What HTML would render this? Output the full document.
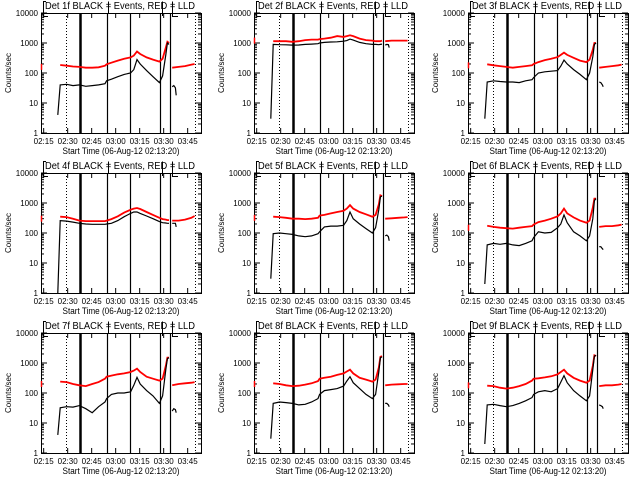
<!DOCTYPE html>
<html><head><meta charset="utf-8"><style>
html,body{margin:0;padding:0;background:#fff;}
svg{display:block;font-family:"Liberation Sans",sans-serif;}
</style></head><body>
<svg id="chart" width="640" height="480" viewBox="0 0 640 480" xmlns="http://www.w3.org/2000/svg"></svg>
<script>
const panelNames = ["1f","2f","3f","4f","5f","6f","7f","8f","9f"];
const xTickLabels = ["02:15","02:30","02:45","03:00","03:15","03:30","03:45"];
const xTickMinutes = [1.67,16.67,31.67,46.67,61.67,76.67,91.67];
const yTickLabels = ["1","10","100","1000","10000"];
const yTickValues = [1,10,100,1000,10000];
const solidLineMinutes = [24.4,41.25,55.6,74.4,80.6];
const dottedLineMinutes = [15.6,96.25];
const tA = [10.5,12,16,20,24,28,32,36,40,41,44,48,52,56,58,60,62,66,70,74,76,78,79,80];
const tB = [82,83,84,84.5];
const tRB = [82,86,90,94,96];
const blackA = [
 [4,40,42,38,40,36,38,40,44,55,62,75,90,100,130,280,200,120,75,48,80,400,1000,900],
 [3,900,880,870,850,860,900,920,950,1000,1050,1080,1100,1150,1200,1350,1250,1050,950,900,900,880,900,920],
 [3,50,55,52,50,50,48,55,60,70,100,110,115,120,170,270,200,130,90,60,100,350,900,1000],
 [1,260,250,230,210,200,195,195,195,200,210,260,350,450,500,500,450,370,300,240,220,215,210,210],
 [3,95,100,95,90,80,75,80,95,110,160,170,170,180,260,500,300,200,140,100,150,600,1600,1700],
 [2,40,45,42,45,40,38,45,55,70,110,100,105,150,200,400,220,110,80,55,80,300,1200,1400],
 [4,32,35,34,38,30,22,35,50,65,90,100,100,110,180,330,200,120,80,45,80,600,1400,1500],
 [3,45,50,48,45,40,42,50,65,90,120,130,140,170,250,350,220,140,90,65,90,500,1500,1600],
 [2,40,42,38,35,38,45,55,70,90,110,120,110,140,230,380,220,120,80,55,80,600,1700,1800]
];
const redA = [
 [180,185,175,165,160,150,150,155,175,195,220,260,300,330,380,520,430,330,280,240,300,700,1100,1000],
 [1150,1150,1150,1150,1100,1150,1250,1300,1300,1350,1400,1500,1700,1600,1700,1800,1700,1400,1250,1200,1150,1150,1150,1200],
 [190,195,180,170,160,150,160,170,180,200,230,270,300,340,400,480,400,320,260,230,280,600,1000,1000],
 [350,350,340,300,260,250,250,250,250,260,290,360,480,600,650,680,630,500,400,320,290,280,270,270],
 [350,350,340,320,300,300,290,300,320,380,400,450,500,550,650,850,650,500,420,350,400,900,1800,1700],
 [170,175,160,150,145,140,150,160,170,190,230,260,300,360,450,650,450,330,260,220,260,700,1400,1400],
 [240,240,230,200,180,170,200,230,300,350,380,420,450,500,560,650,500,350,300,260,300,800,1500,1500],
 [210,210,200,180,170,175,190,210,250,300,320,350,400,450,520,600,450,320,280,240,280,700,1600,1700],
 [170,175,170,150,140,150,170,200,260,300,310,330,360,420,500,600,450,320,260,220,260,800,1800,1700]
];
const blackB = [[35,38,32,18],[850,900,880,700],[50,48,40,35],[210,210,210,160],[80,85,75,55],[35,35,30,28],[25,30,28,22],[45,45,40,35],[40,38,35,30]];
const redB = [[150,160,170,190,200],[1150,1200,1200,1200,1200],[150,160,170,180,190],[260,260,280,320,370],[300,310,320,330,340],[160,170,170,180,190],[180,200,210,220,230],[180,190,195,200,200],[170,180,180,190,200]];
const redStart = [160,1200,180,300,320,150,200,200,180];

const NS="http://www.w3.org/2000/svg";
const svg=document.getElementById('chart');
function mk(tag,attrs,parent){const e=document.createElementNS(NS,tag);for(const k in attrs)e.setAttribute(k,attrs[k]);(parent||svg).appendChild(e);return e;}
const X0=41,X1=201,Y0=13,Y1=133;
function xs(t){return X0+t*1.6;}
function ys(v){return Y1-Math.log10(v)*(Y1-Y0)/4;}
function pts(ts,vs){return ts.map((t,i)=>xs(t).toFixed(1)+','+ys(vs[i]).toFixed(1)).join(' ');}

for(let p=0;p<9;p++){
  const ox=[0,213,427][p%3], oy=[0,160,320][Math.floor(p/3)];
  const g=mk('g',{transform:`translate(${ox},${oy})`});
  
  
  const ti=mk('text',{x:120,y:9,'font-size':10,'text-anchor':'middle',textLength:150,lengthAdjust:'spacingAndGlyphs'},g);
  ti.textContent='Det '+panelNames[p]+' BLACK = Events, RED = LLD';
  
  
  mk('path',{d:'M43.5,16.5V1.5H46 M43.5,16.5H48 M108.5,1.5V13 M162.5,1.5V16 M172.5,1.5V16.5H178',stroke:'#000',fill:'none','stroke-width':1},g);
  const fr=mk('rect',{x:X0+0.5,y:Y0+0.5,width:X1-X0,height:Y1-Y0,fill:'none',stroke:'#000','stroke-width':1},g);
  
  
  yTickValues.forEach((v,i)=>{
    const y=ys(v);
    mk('line',{x1:X0,x2:X0+6,y1:y,y2:y,stroke:'#000'},g);
    mk('line',{x1:X1-6,x2:X1,y1:y,y2:y,stroke:'#000'},g);
    const tl=mk('text',{x:38,y:y+3,'font-size':8,'text-anchor':'end'},g);
    tl.textContent=yTickLabels[i];
    
    
    if(i<4)for(let m=2;m<10;m++){const ym=ys(v*m);mk('line',{x1:X0,x2:X0+3,y1:ym,y2:ym,stroke:'#000'},g);mk('line',{x1:X1-3,x2:X1,y1:ym,y2:ym,stroke:'#000'},g);}
  });
  xTickMinutes.forEach((t,i)=>{
    const x=xs(t);
    mk('line',{x1:x,x2:x,y1:Y1-5,y2:Y1,stroke:'#000'},g);
    mk('line',{x1:x,x2:x,y1:Y0,y2:Y0+5,stroke:'#000'},g);
    const tl=mk('text',{x:x,y:144,'font-size':8,'text-anchor':'middle'},g);
    tl.textContent=xTickLabels[i];
    
    
  });
  const yt=mk('text',{x:0,y:0,'font-size':8,'text-anchor':'middle',transform:'translate(11,73) rotate(-90)'},g);
  yt.textContent='Counts/sec';
  
  
  const xt=mk('text',{x:121,y:154,'font-size':9,'text-anchor':'middle',textLength:117,lengthAdjust:'spacingAndGlyphs'},g);
  xt.textContent='Start Time (06-Aug-12 02:13:20)';
  
  
  solidLineMinutes.forEach((t,i)=>{
    const x=Math.round(xs(t))+0.5;
    const l=mk('line',{x1:x,x2:x,y1:Y0,y2:Y1,stroke:'#000','stroke-width':i===0?2.5:1.2},g);
    
    
  });
  dottedLineMinutes.forEach(t=>{
    const x=Math.round(xs(t))+0.5;
    const l=mk('line',{x1:x,x2:x,y1:Y0,y2:Y1,stroke:'#000','stroke-dasharray':'1,2'},g);
    
    
  });
  const rs=mk('line',{x1:X0+0.5,x2:X0+0.5,y1:ys(redStart[p])-3,y2:ys(redStart[p])+3,stroke:'#f00','stroke-width':1.5},g);
  
  
  const r1=mk('polyline',{points:pts(tA.slice(1),redA[p].slice(1)),fill:'none',stroke:'#f00','stroke-width':1.8},g);
  
  
  const r2=mk('polyline',{points:pts(tRB,redB[p]),fill:'none',stroke:'#f00','stroke-width':1.8},g);
  
  
  const b1=mk('polyline',{points:pts(tA,blackA[p]),fill:'none',stroke:'#000','stroke-width':1.2},g);
  
  
  const b2=mk('polyline',{points:pts(tB,blackB[p]),fill:'none',stroke:'#000','stroke-width':1.2},g);
  
  
}
</script>
</body></html>
